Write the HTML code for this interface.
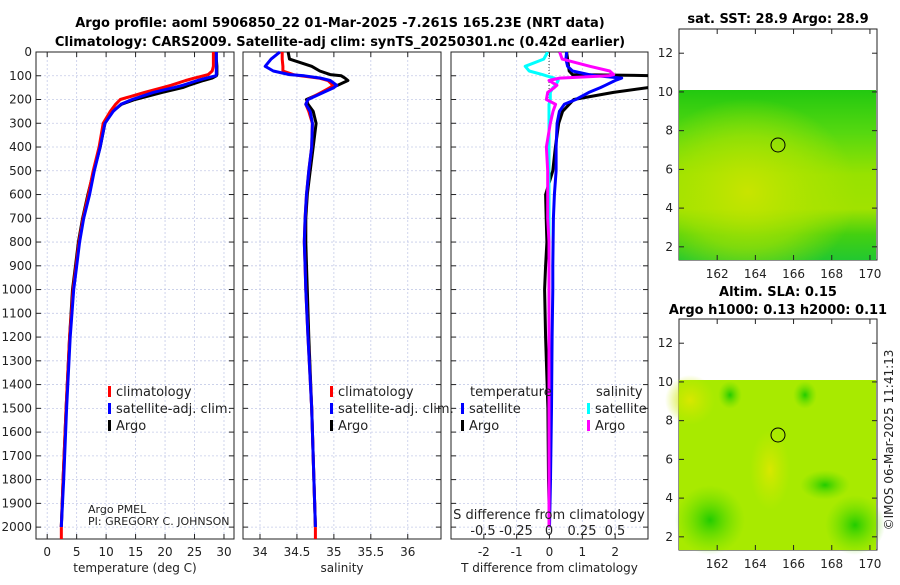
<!DOCTYPE html>
<html><head><meta charset="utf-8"><style>
body{margin:0;background:#fff;width:900px;height:580px;overflow:hidden}
svg{font-family:"DejaVu Sans","Liberation Sans",sans-serif}
.t{font-size:12px;fill:#222}
.b{font-size:13px;font-weight:bold;fill:#000}
.g{stroke:#c5cbe8;stroke-width:0.8;stroke-dasharray:2,2}
</style></head><body>
<svg id="c" width="900" height="580" viewBox="0 0 900 580" xmlns="http://www.w3.org/2000/svg">
<defs>
<radialGradient id="y1" cx="0.35" cy="0.6" r="0.55"><stop offset="0" stop-color="#c8e400"/><stop offset="0.6" stop-color="#b0e400" stop-opacity="0.6"/><stop offset="1" stop-color="#b0e400" stop-opacity="0"/></radialGradient>
<linearGradient id="m1" x1="0" y1="0" x2="0" y2="1"><stop offset="0" stop-color="#22c810"/><stop offset="0.25" stop-color="#55d810"/><stop offset="0.5" stop-color="#98e200"/><stop offset="0.7" stop-color="#a0e200"/><stop offset="0.85" stop-color="#44d010"/><stop offset="1" stop-color="#22c830"/></linearGradient>
<radialGradient id="gb" cx="0.5" cy="0.5" r="0.5"><stop offset="0" stop-color="#22cc00"/><stop offset="1" stop-color="#66dd00" stop-opacity="0"/></radialGradient>
<radialGradient id="yb" cx="0.5" cy="0.5" r="0.5"><stop offset="0" stop-color="#d8e800"/><stop offset="1" stop-color="#c8e800" stop-opacity="0"/></radialGradient>
</defs>
<text class="b" x="340" y="27" text-anchor="middle">Argo profile: aoml 5906850_22 01-Mar-2025 -7.261S 165.23E (NRT data)</text>
<text class="b" x="340" y="46" text-anchor="middle">Climatology: CARS2009. Satellite-adj clim: synTS_20250301.nc (0.42d earlier)</text>
<g id="p1"></g>
<g id="p2"></g>
<g id="p3"></g>

<g>
<text class="b" x="778" y="23" text-anchor="middle">sat. SST: 28.9 Argo: 28.9</text>
<rect x="679" y="29" width="198" height="231" fill="#fff" stroke="#222"/>
<rect x="679" y="90" width="197" height="170" fill="url(#m1)"/>
<rect x="679" y="90" width="197" height="170" fill="url(#y1)"/>
<circle cx="778" cy="145" r="7" fill="none" stroke="#000"/>
</g>
<g>
<text class="b" x="778" y="296" text-anchor="middle">Altim. SLA: 0.15</text>
<text class="b" x="778" y="314" text-anchor="middle">Argo h1000: 0.13 h2000: 0.11</text>
<rect x="679" y="319" width="198" height="231" fill="#fff" stroke="#222"/>
<rect x="679" y="380" width="197" height="170" fill="#a8ea00"/>
<ellipse cx="690" cy="400" rx="25" ry="25" fill="url(#yb)"/>
<ellipse cx="770" cy="470" rx="20" ry="40" fill="url(#yb)"/>
<ellipse cx="710" cy="520" rx="35" ry="35" fill="url(#gb)"/>
<ellipse cx="855" cy="525" rx="30" ry="30" fill="url(#gb)"/>
<ellipse cx="825" cy="485" rx="25" ry="15" fill="url(#gb)"/>
<ellipse cx="730" cy="395" rx="12" ry="14" fill="url(#gb)"/>
<ellipse cx="805" cy="395" rx="12" ry="14" fill="url(#gb)"/>
<circle cx="778" cy="435" r="7" fill="none" stroke="#000"/>
</g>
<g id="maps"></g>
<text class="t" transform="translate(893,440) rotate(-90)" text-anchor="middle">©IMOS 06-Mar-2025 11:41:13</text>
</svg>
<script>
const depths=[0,30,60,80,95,100,110,120,140,150,170,200,220,250,300,400,500,600,700,800,900,1000,1200,1500,1800,2000];
const tempClim=[28.2,28.2,28.2,28.0,27.3,26.5,25,23.5,21,19.6,16.5,12.4,11.6,10.7,9.5,8.8,7.8,7.0,6.1,5.4,4.9,4.4,3.8,3.2,2.7,2.4];
const tempSat=[28.7,28.7,28.7,28.7,28.7,28.6,27,25.5,23,21.5,18,14.4,12.5,11.2,9.8,9.0,8.0,7.2,6.2,5.5,5.0,4.5,3.9,3.3,2.8,2.4];
const tempArgo=[28.7,28.7,28.8,28.8,28.8,28.7,28.0,26.5,24,23,19.5,14.9,12.6,11.1,9.8,9.0,7.9,6.9,6.0,5.3,4.8,4.3,3.8,3.2,2.7,2.4];
const salClim=[34.3,34.3,34.31,34.31,34.45,34.55,34.8,34.92,34.99,34.95,34.83,34.65,34.62,34.66,34.71,34.7,34.66,34.63,34.61,34.6,34.61,34.62,34.65,34.7,34.73,34.75];
const salSat=[34.27,34.15,34.07,34.18,34.4,34.6,34.82,34.95,35.04,35.0,34.86,34.65,34.62,34.68,34.71,34.7,34.66,34.63,34.61,34.6,34.61,34.62,34.65,34.7,34.73,34.75];
const salArgo=[34.38,34.4,34.7,34.81,34.95,35.1,35.15,35.19,35.05,34.95,34.85,34.63,34.65,34.72,34.76,34.72,34.68,34.64,34.62,34.62,34.63,34.64,34.66,34.7,34.73,34.75];
const dTsat=[0.52,0.5,0.55,0.7,1.2,1.45,2.2,2.0,1.7,1.55,1.2,0.8,0.45,0.3,0.23,0.2,0.2,0.15,0.12,0.11,0.1,0.1,0.08,0.06,0.03,0];
const dTargo=[0.52,0.55,0.58,0.6,0.7,3.5,4,4,3.5,3.0,1.95,0.74,0.6,0.4,0.28,0.18,0.1,-0.12,-0.1,-0.08,-0.12,-0.15,-0.12,-0.05,-0.03,0];
const dSsat=[-0.01,-0.04,-0.18,-0.15,-0.05,-0.02,0.04,0.07,0.05,0.03,0.01,0.01,0,0,0,0,0,0,0,0,0,0,0,0,0,0];
const dSargo=[0.08,0.1,0.31,0.46,0.49,0.45,0.08,0.0,0.06,0.04,-0.01,-0.02,0.05,0.03,0.01,-0.02,-0.01,-0.01,-0.01,0,0,0,0,0,0,0];
const depthTicks=[0,100,200,300,400,500,600,700,800,900,1000,1100,1200,1300,1400,1500,1600,1700,1800,1900,2000];
const tempTicks=[0,5,10,15,20,25,30];
const salTicks=[34,34.5,35,35.5,36];
const dTTicks=[-2,-1,0,1,2];
const dSTicks=[-0.5,-0.25,0,0.25,0.5];
const latTicks=[2,4,6,8,10,12];
const lonTicks=[162,164,166,168,170];
const NS='http://www.w3.org/2000/svg';
const Y0=52,Y1=539,DMAX=2050;
const yD=d=>Y0+d/DMAX*(Y1-Y0);
function mk(p,tag,at,txt){const e=document.createElementNS(NS,tag);for(const k in at)e.setAttribute(k,at[k]);if(txt!=null)e.textContent=txt;p.appendChild(e);return e;}
function panel(g,x0,x1,xmin,xmax,ticks,fmt,label,yl){
  const sx=v=>x0+(v-xmin)/(xmax-xmin)*(x1-x0);
  depthTicks.forEach(d=>{mk(g,'line',{x1:x0,x2:x1,y1:yD(d),y2:yD(d),class:'g'});mk(g,'line',{x1:x0,x2:x0+5,y1:yD(d),y2:yD(d),stroke:'#222'});mk(g,'line',{x1:x1-5,x2:x1,y1:yD(d),y2:yD(d),stroke:'#222'});
    if(yl){const t=mk(g,'text',{x:x0-4,y:yD(d)+4,'text-anchor':'end',class:'t'},d);}});
  ticks.forEach(v=>{const x=sx(v);mk(g,'line',{x1:x,x2:x,y1:Y0,y2:Y1,class:'g'});mk(g,'line',{x1:x,x2:x,y1:Y1-5,y2:Y1,stroke:'#222'});mk(g,'line',{x1:x,x2:x,y1:Y0,y2:Y0+5,stroke:'#222'});
    const t=mk(g,'text',{x:x,y:556,'text-anchor':'middle',class:'t'},fmt(v));});
  mk(g,'rect',{x:x0,y:Y0,width:x1-x0,height:Y1-Y0,fill:'none',stroke:'#222'});
  const t=mk(g,'text',{x:(x0+x1)/2,y:572,'text-anchor':'middle',class:'t'},label);
  return sx;
}
function line(g,sx,vals,col,name){const pts=vals.map((v,i)=>sx(v).toFixed(1)+','+yD(depths[i]).toFixed(1)).join(' ');
  const e=mk(g,'polyline',{points:pts,fill:'none',stroke:col,'stroke-width':3,'stroke-linejoin':'round'});
  }
function legend(g,x,y,items){items.forEach((it,i)=>{mk(g,'rect',{x:x,y:y+i*17-6,width:3,height:11,fill:it[1]});
  const t=mk(g,'text',{x:x+8,y:y+i*17+4,class:'t',style:'font-size:13px'},it[0]);});}
const f=v=>String(v);
const p1=document.getElementById('p1');
const s1=panel(p1,36,234,-1.9,31.7,tempTicks,f,'temperature (deg C)',true);
line(p1,s1,tempArgo,'#000','temp-argo-line');line(p1,s1,tempClim,'#f00','temp-clim-line');line(p1,s1,tempSat,'#00f','temp-sat-line');
mk(p1,'line',{x1:s1(tempClim[tempClim.length-1]),x2:s1(tempClim[tempClim.length-1]),y1:yD(2000),y2:Y1,stroke:'#f00','stroke-width':3});
legend(p1,108,392,[['climatology','#f00'],['satellite-adj. clim.','#00f'],['Argo','#000']]);
mk(p1,'text',{x:88,y:513,class:'t',style:'font-size:11px'},'Argo PMEL');mk(p1,'text',{x:88,y:525,class:'t',style:'font-size:11px'},'PI: GREGORY C. JOHNSON');
const p2=document.getElementById('p2');
const s2=panel(p2,243,441,33.77,36.45,salTicks,f,'salinity',false);
line(p2,s2,salArgo,'#000','sal-argo-line');line(p2,s2,salClim,'#f00','sal-clim-line');line(p2,s2,salSat,'#00f','sal-sat-line');
mk(p2,'line',{x1:s2(salClim[salClim.length-1]),x2:s2(salClim[salClim.length-1]),y1:yD(2000),y2:Y1,stroke:'#f00','stroke-width':3});
legend(p2,330,392,[['climatology','#f00'],['satellite-adj. clim.','#00f'],['Argo','#000']]);
const p3=document.getElementById('p3');
const s3=panel(p3,451,648,-3.0,3.0,dTTicks,f,'T difference from climatology',false);
const sS=v=>549+v*132;
mk(p3,'line',{x1:549,x2:549,y1:Y0,y2:Y1,stroke:'#444','stroke-dasharray':'1,2'});
const clip=mk(p3,'clipPath',{id:'cp3'});mk(clip,'rect',{x:451,y:Y0,width:197,height:Y1-Y0});
const gl=mk(p3,'g',{'clip-path':'url(#cp3)'});
line(gl,s3,dTargo,'#000','dT-argo-line');line(gl,s3,dTsat,'#00f','dT-sat-line');line(gl,sS,dSsat,'#0ff','dS-sat-line');line(gl,sS,dSargo,'#f0f','dS-argo-line');
mk(p3,'text',{x:470,y:396,class:'t',style:'font-size:13px'},'temperature');mk(p3,'text',{x:596,y:396,class:'t',style:'font-size:13px'},'salinity');
legend(p3,461,409,[['satellite','#00f'],['Argo','#000']]);legend(p3,587,409,[['satellite','#0ff'],['Argo','#f0f']]);
mk(p3,'text',{x:549,y:519,'text-anchor':'middle',class:'t',style:'font-size:13px'},'S difference from climatology');
dSTicks.forEach(v=>{const t=mk(p3,'text',{x:sS(v),y:535,'text-anchor':'middle',class:'t',style:'font-size:13px'},String(v));});
const mp=document.getElementById('maps');
[[29,260],[319,550]].forEach(([top,bot])=>{
  const ly=l=>bot-(l-1.32)/(13.25-1.32)*(bot-top);const lx=o=>679+(o-160)/(10.37)*198;
  latTicks.forEach(l=>{const y=ly(l);mk(mp,'line',{x1:679,x2:684,y1:y,y2:y,stroke:'#222'});mk(mp,'line',{x1:872,x2:877,y1:y,y2:y,stroke:'#222'});
    const t=mk(mp,'text',{x:673,y:y+4,'text-anchor':'end',class:'t'},l);});
  lonTicks.forEach(o=>{const x=lx(o);mk(mp,'line',{x1:x,x2:x,y1:bot-5,y2:bot,stroke:'#222'});mk(mp,'line',{x1:x,x2:x,y1:top,y2:top+5,stroke:'#222'});
    const t=mk(mp,'text',{x:x,y:bot+18,'text-anchor':'middle',class:'t'},o);});
});
</script>
</body></html>
